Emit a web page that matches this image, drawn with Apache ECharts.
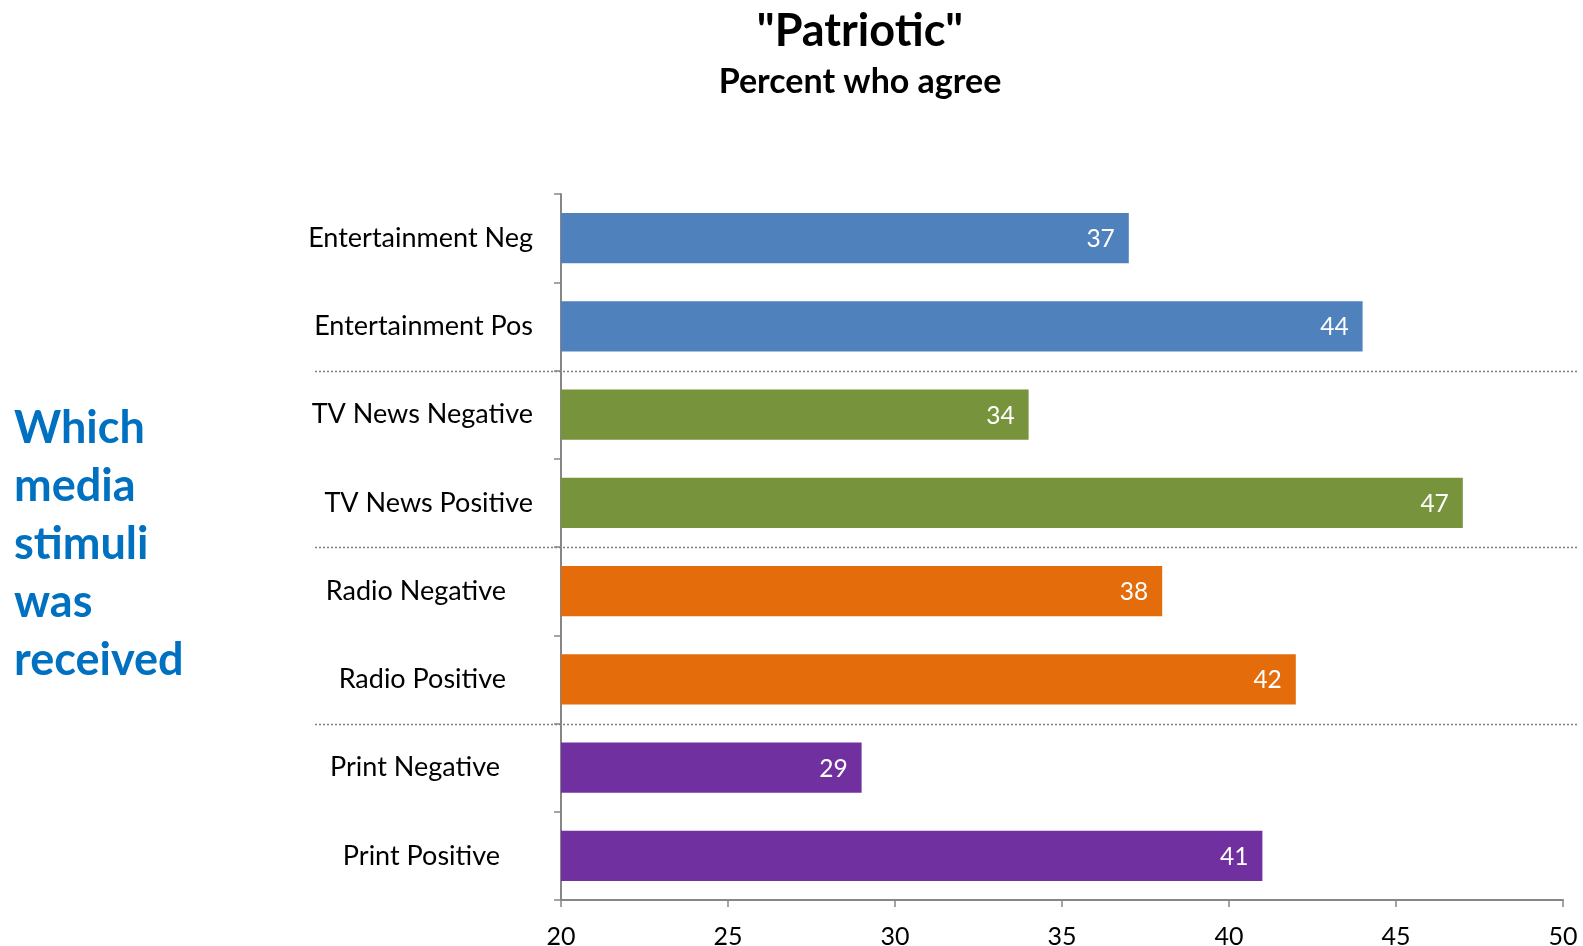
<!DOCTYPE html>
<html>
<head>
<meta charset="utf-8">
<script src="https://cdn.jsdelivr.net/npm/echarts@6/dist/echarts.min.js"></script>
<style>
  html, body { margin: 0; padding: 0; background: #fff; }
  #chart { width: 1583px; height: 946px; }
</style>
</head>
<body>
<div id="chart"></div>
<script>
// Survey groups, top to bottom
const categories = [
  'Entertainment Neg', 'Entertainment Pos',
  'TV News Negative', 'TV News Positive',
  'Radio Negative', 'Radio Positive',
  'Print Negative', 'Print Positive'
];
// Percent who agree, per group
const values = [37, 44, 34, 47, 38, 42, 29, 41];
// Media family of each group (drives colour)
const media = ['ent', 'ent', 'tv', 'tv', 'radio', 'radio', 'print', 'print'];
const mediaColors = { ent: '#4F81BD', tv: '#77933C', radio: '#E46C0A', print: '#7030A0' };
const xTicks = { min: 20, max: 50, step: 5 };

const FONT = 'Lato, "Open Sans", sans-serif';
const chart = echarts.init(document.getElementById('chart'));

const option = {
  backgroundColor: '#ffffff',
  animation: false,
  title: [
    {
      text: '"Patriotic"',
      left: 855, top: 4, textAlign: 'center',
      textStyle: { fontFamily: FONT, fontWeight: 'bold', fontSize: 45, color: '#000' }
    },
    {
      text: 'Percent who agree',
      left: 855, top: 60, textAlign: 'center',
      textStyle: { fontFamily: FONT, fontWeight: 'bold', fontSize: 34, color: '#000' }
    }
  ],
  grid: { left: 561, right: 20, top: 194, bottom: 46, containLabel: false, outerBoundsMode: 'none' },
  xAxis: {
    type: 'value',
    min: xTicks.min, max: xTicks.max, interval: xTicks.step,
    axisLine: { show: true, lineStyle: { color: '#868686', width: 2 } },
    axisTick: { show: true, length: 7, lineStyle: { color: '#868686', width: 1.5 } },
    splitLine: { show: false },
    axisLabel: { margin: 24, fontFamily: FONT, fontSize: 25, color: '#000' }
  },
  yAxis: {
    type: 'category',
    data: categories,
    inverse: true,
    axisLine: { show: true, lineStyle: { color: '#868686', width: 2 } },
    axisTick: { show: true, length: 7, alignWithLabel: false, lineStyle: { color: '#868686', width: 1.5 } },
    axisLabel: {
      margin: 28,
      fontFamily: FONT, fontSize: 27, color: '#000',
      formatter: function (v) {
        if (v.indexOf('Radio') === 0) return '{r|' + v + '}';
        if (v.indexOf('Print') === 0) return '{p|' + v + '}';
        return v;
      },
      rich: {
        r: { fontFamily: FONT, fontSize: 27, color: '#000', padding: [0, 27, 0, 0] },
        p: { fontFamily: FONT, fontSize: 27, color: '#000', padding: [0, 33, 0, 0] }
      }
    }
  },
  series: [{
    type: 'bar',
    barCategoryGap: '43%',
    data: values.map((v, i) => ({ value: v, itemStyle: { color: mediaColors[media[i]] } })),
    label: {
      show: true, position: 'insideRight', distance: 14, offset: [0, 1],
      color: '#fff', fontFamily: FONT, fontSize: 24.5
    }
  }]
};
chart.setOption(option);

// Dotted separators between media families, placed from the category scale
function groupSeparators() {
  const lines = [];
  for (let i = 1; i < media.length; i++) {
    if (media[i] !== media[i - 1]) {
      const y0 = chart.convertToPixel({ yAxisIndex: 0 }, i - 1);
      const y1 = chart.convertToPixel({ yAxisIndex: 0 }, i);
      const y = Math.round((y0 + y1) / 2) + 0.5;
      lines.push({
        type: 'line', silent: true, z: 0,
        shape: { x1: 315, y1: y, x2: 1577, y2: y },
        style: { stroke: '#7f7f7f', lineWidth: 1.5, lineDash: [2, 2] }
      });
    }
  }
  return lines;
}

chart.setOption({
  graphic: [
    {
      type: 'text', left: 14, top: 399,
      style: {
        text: 'Which\nmedia\nstimuli\nwas\nreceived',
        fontFamily: FONT, fontWeight: 'bold', fontSize: 45,
        lineHeight: 58, fill: '#0070C0'
      }
    }
  ].concat(groupSeparators())
});
</script>
</body>
</html>
